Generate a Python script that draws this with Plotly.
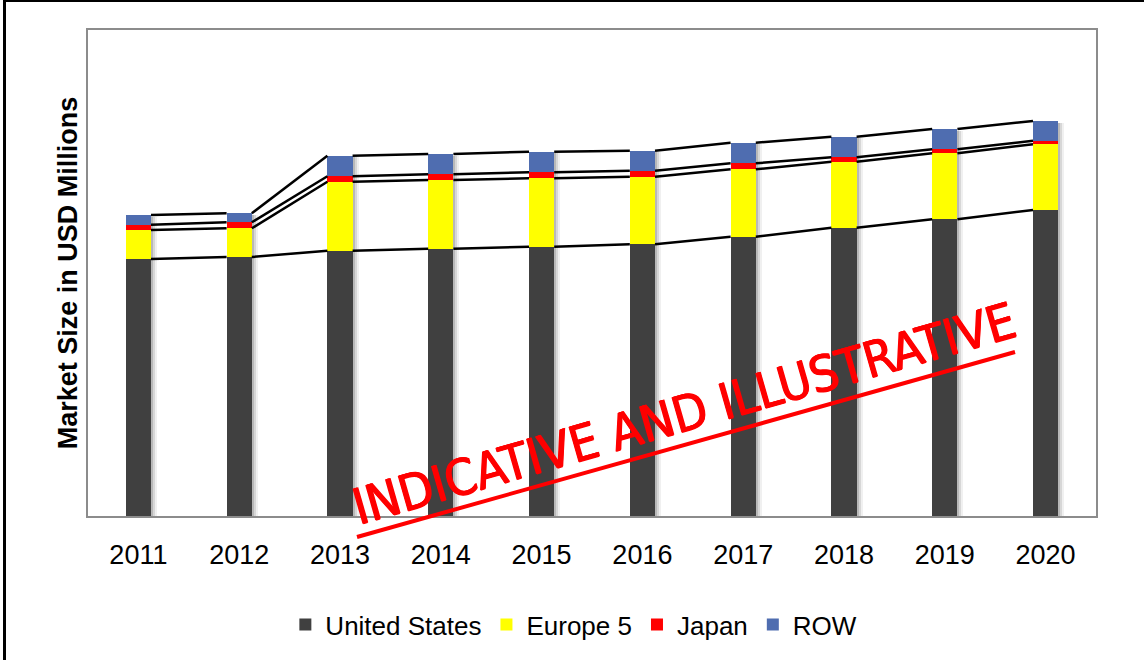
import plotly.graph_objects as go

years = ["2011", "2012", "2013", "2014", "2015", "2016", "2017", "2018", "2019", "2020"]
us = [2570, 2590, 2653, 2673, 2693, 2717, 2793, 2883, 2967, 3060]
europe5 = [290, 287, 690, 687, 684, 676, 674, 660, 660, 657]
japan = [53, 60, 54, 57, 60, 60, 60, 44, 40, 36]
row = [97, 90, 206, 203, 206, 200, 206, 206, 203, 197]

series = [
    ("United States", us, "#404040"),
    ("Europe 5", europe5, "#FFFF00"),
    ("Japan", japan, "#FF0000"),
    ("ROW", row, "#4F6DB0"),
]

# plot-area geometry (px) for paper-coordinate decorations
L, R, T, B = 88, 48, 30, 144
W, H = 1144, 660
PW, PH = W - L - R, H - T - B
def px(x):
    return (x - L) / PW
def py(y):
    return (H - B - y) / PH

xs = list(range(len(years)))
bw = 0.25

fig = go.Figure()

# shadow behind bars
totals = [a + b + c + d for a, b, c, d in zip(us, europe5, japan, row)]
for off, alpha in [(0.06, 0.06), (0.04, 0.10), (0.02, 0.14)]:
    fig.add_trace(go.Bar(
        x=[x + off for x in xs], y=[t - 8 for t in totals], base=[-8] * len(xs),
        width=bw, marker=dict(color=f"rgba(0,0,0,{alpha})", line=dict(width=0)),
        showlegend=False, hoverinfo="skip"))

for name, vals, col in series:
    fig.add_trace(go.Bar(
        x=xs, y=vals, name=name, width=bw,
        marker=dict(color=col, line=dict(width=0))))

# series lines between stack tops
cum = [0] * len(xs)
for name, vals, col in series:
    cum = [c + v for c, v in zip(cum, vals)]
    lx, ly = [], []
    for i in range(len(xs) - 1):
        lx += [xs[i] + bw / 2, xs[i + 1] - bw / 2, None]
        ly += [cum[i], cum[i + 1], None]
    fig.add_trace(go.Scatter(x=lx, y=ly, mode="lines",
                             line=dict(color="black", width=2.5),
                             showlegend=False, hoverinfo="skip"))

fig.update_layout(
    width=W, height=H,
    barmode="stack",
    plot_bgcolor="white", paper_bgcolor="white",
    margin=dict(l=L, r=R, t=T, b=B, autoexpand=False),
    font=dict(family="Liberation Sans, Arial, sans-serif", color="black"),
    xaxis=dict(range=[-0.5, 9.5], tickmode="array", tickvals=xs, ticktext=years,
               tickfont=dict(size=27), showgrid=False, zeroline=False,
               showline=True, linecolor="#8C8C8C", linewidth=2, mirror=True,
               ticks="outside", ticklen=14, tickcolor="rgba(0,0,0,0)",
               automargin=False),
    yaxis=dict(range=[0, 4860], showticklabels=False, showgrid=False, zeroline=False,
               showline=True, linecolor="#8C8C8C", linewidth=2, mirror=True,
               ticks="", automargin=False,
               title=dict(text="<b>Market Size in USD Millions</b>",
                          font=dict(size=27), standoff=1)),
    legend=dict(orientation="h", x=0.482, xanchor="center", y=-0.175, yanchor="top",
                font=dict(size=26), traceorder="normal", itemwidth=30,
                bgcolor="rgba(0,0,0,0)"),
    bargap=0,
)

# watermark
fig.add_annotation(
    text="INDICATIVE AND ILLUSTRATIVE", xref="paper", yref="paper",
    x=px(684), y=py(414), xanchor="center", yanchor="middle",
    showarrow=False, textangle=-16,
    font=dict(family="Liberation Sans Narrow, DejaVu Sans Condensed, Liberation Sans",
              size=50, color="#FF0000",
              shadow="0.7px 0 0 #FF0000, -0.7px 0 0 #FF0000, 0 0.7px 0 #FF0000"))
fig.add_shape(type="line", xref="paper", yref="paper",
              x0=px(357), y0=py(537), x1=px(1015), y1=py(352),
              line=dict(color="#FF0000", width=4))

# outer border
fig.add_shape(type="rect", xref="paper", yref="paper",
              x0=px(4.5), y0=py(0.5), x1=px(1152), y1=py(672),
              line=dict(color="black", width=3), layer="above")

fig.write_html("out.html", config={"displayModeBar": False},
               post_script="document.body.style.margin='0';")
